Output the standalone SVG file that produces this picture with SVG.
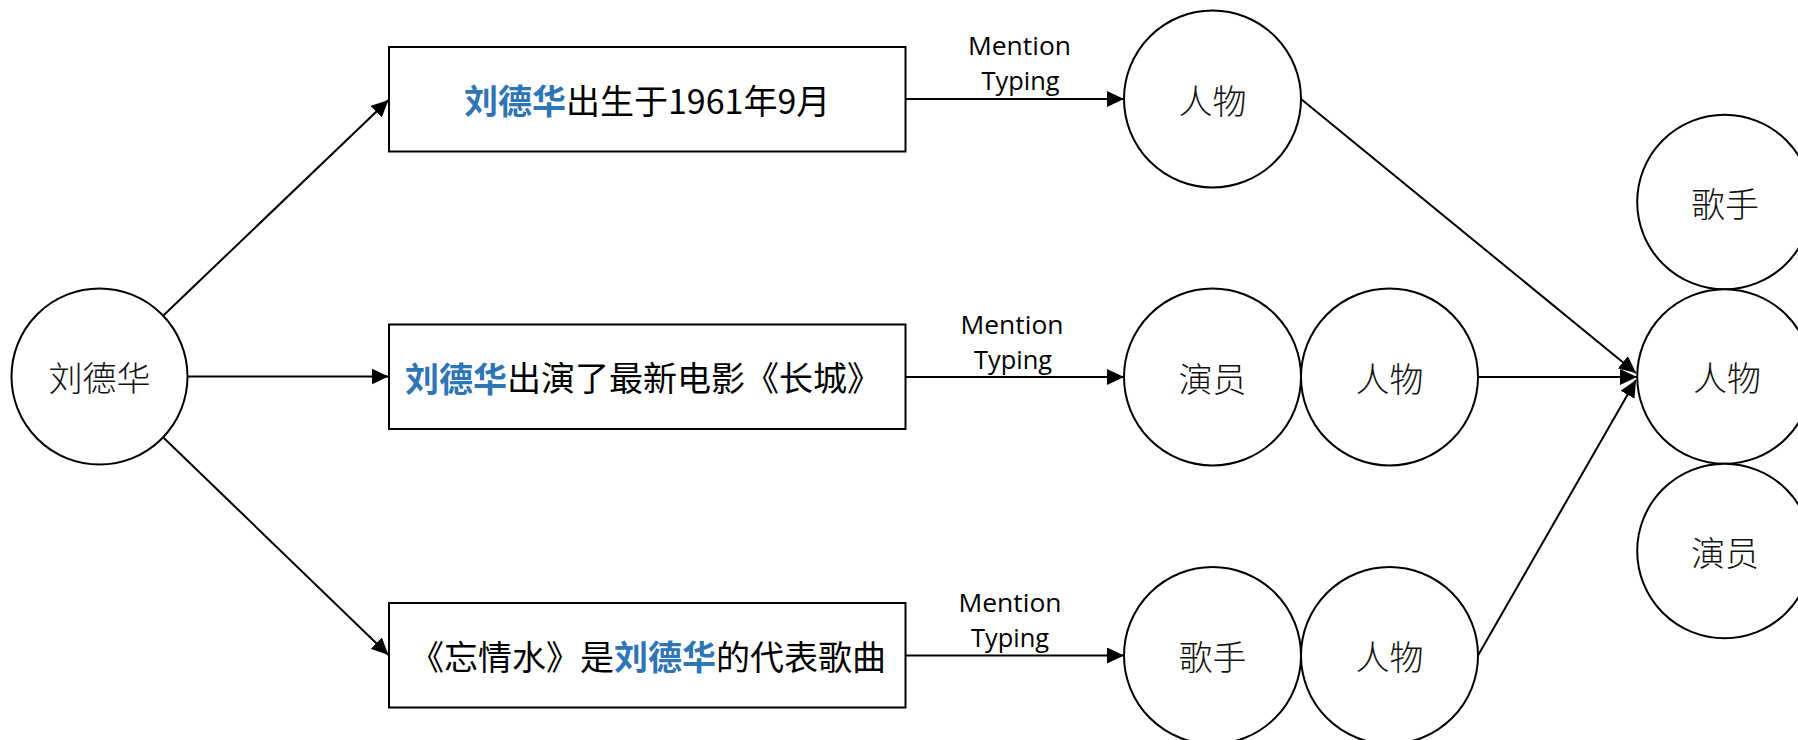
<svg xmlns="http://www.w3.org/2000/svg" width="1798" height="740" viewBox="0 0 1798 740">
<style>
.node{fill:#fff;stroke:#000;stroke-width:2}
.lbl{font-family:"Noto Sans CJK SC",sans-serif;font-size:34px;font-weight:300;fill:#111;text-anchor:middle;dominant-baseline:central}
.box-t{font-family:"Noto Sans CJK SC",sans-serif;font-size:34px;fill:#000;dominant-baseline:central}
.hl{fill:#2E75B6;font-weight:bold}
.edge{stroke:#000;stroke-width:2;fill:none;marker-end:url(#arr)}
.mt{font-family:"Open Sans",sans-serif;font-size:25px;fill:#000;text-anchor:middle}
</style>
<defs>
<marker id="arr" markerUnits="userSpaceOnUse" markerWidth="18" markerHeight="16" refX="17" refY="8" orient="auto">
<path d="M0,0 L17,8 L0,16 Z" fill="#000"/>
</marker>
</defs>
<rect width="1798" height="740" fill="#fff"/>
<g id="n-ldh"><circle class="node" cx="99.5" cy="376.5" r="88"/><text class="lbl" x="99.5" y="376.5">刘德华</text></g>
<g id="s1"><rect class="node" x="389" y="47" width="516.5" height="104.5"/><text class="box-t" x="464" y="99"><tspan class="hl">刘德华</tspan>出生于1961年9月</text></g>
<g id="s2"><rect class="node" x="389" y="324.5" width="516.5" height="104.5"/><text class="box-t" x="405" y="376.5"><tspan class="hl">刘德华</tspan>出演了最新电影《长城》</text></g>
<g id="s3"><rect class="node" x="389" y="603" width="516.5" height="104.5"/><text class="box-t" x="410" y="655">《忘情水》是<tspan class="hl">刘德华</tspan>的代表歌曲</text></g>
<g id="t1a"><circle class="node" cx="1212.5" cy="99" r="88.5"/><text class="lbl" x="1212.5" y="99">人物</text></g>
<g id="t2a"><circle class="node" cx="1212.5" cy="377" r="88.5"/><text class="lbl" x="1212.5" y="377">演员</text></g>
<g id="t2b"><circle class="node" cx="1389.5" cy="377" r="88.5"/><text class="lbl" x="1389.5" y="377">人物</text></g>
<g id="t3a"><circle class="node" cx="1212.5" cy="655.5" r="88.5"/><text class="lbl" x="1212.5" y="655.5">歌手</text></g>
<g id="t3b"><circle class="node" cx="1389.5" cy="655.5" r="88.5"/><text class="lbl" x="1389.5" y="655.5">人物</text></g>
<g id="r-singer"><circle class="node" cx="1724.5" cy="202" r="87.3"/><text class="lbl" x="1725" y="202">歌手</text></g>
<g id="r-person"><circle class="node" cx="1724.5" cy="376.5" r="87.3"/><text class="lbl" x="1727" y="376.5">人物</text></g>
<g id="r-actor"><circle class="node" cx="1724.5" cy="551" r="87.3"/><text class="lbl" x="1725" y="551">演员</text></g>
<g id="connectors">
<line class="edge" x1="163.6" y1="315.3" x2="388.5" y2="100"/>
<line class="edge" x1="187.5" y1="376.5" x2="388.5" y2="376.5"/>
<line class="edge" x1="163.6" y1="437.7" x2="388.5" y2="655"/>
<line class="edge" x1="905.5" y1="99" x2="1124" y2="99"/>
<line class="edge" x1="905.5" y1="377" x2="1124" y2="377"/>
<line class="edge" x1="905.5" y1="655.5" x2="1124" y2="655.5"/>
<line class="edge" x1="1301" y1="99" x2="1636" y2="373"/>
<line class="edge" x1="1478" y1="377" x2="1637" y2="377"/>
<line class="edge" x1="1478" y1="655.5" x2="1636" y2="380"/>
<text class="mt" x="1019.5" y="55" textLength="103" lengthAdjust="spacingAndGlyphs">Mention</text>
<text class="mt" x="1020.5" y="90" textLength="78" lengthAdjust="spacingAndGlyphs">Typing</text>
<text class="mt" x="1012" y="333.5" textLength="103" lengthAdjust="spacingAndGlyphs">Mention</text>
<text class="mt" x="1013" y="368.5" textLength="78" lengthAdjust="spacingAndGlyphs">Typing</text>
<text class="mt" x="1010" y="612" textLength="103" lengthAdjust="spacingAndGlyphs">Mention</text>
<text class="mt" x="1010" y="647" textLength="78" lengthAdjust="spacingAndGlyphs">Typing</text>
</g>
</svg>
